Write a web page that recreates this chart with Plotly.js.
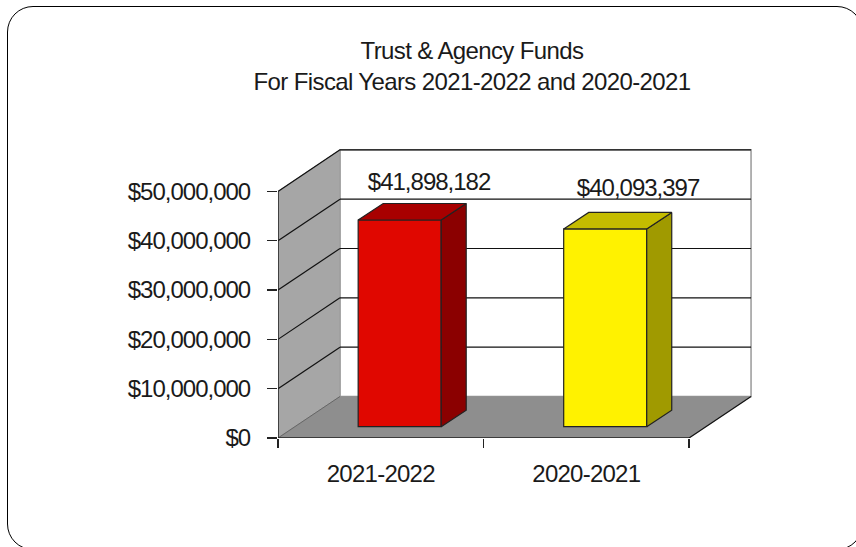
<!DOCTYPE html>
<html><head><meta charset="utf-8">
<script src="https://cdn.plot.ly/plotly-3.0.1.min.js"></script>
<style>
html,body{margin:0;padding:0;width:856px;height:547px;overflow:hidden;background:#fff}
#card{position:absolute;left:7px;top:6px;width:856px;height:544px;border:1.5px solid #000;border-radius:26px;box-sizing:border-box}
#chart{position:absolute;left:0;top:0;width:856px;height:547px}
#chart svg text{letter-spacing:-1px}
#chart svg .gtitle{letter-spacing:-0.62px}
#chart svg .xtick text{letter-spacing:-0.75px}
</style></head><body>
<div id="card"></div><div id="chart"></div>
<script>
const categories = ['2021-2022', '2020-2021'];
const values = [41898182, 40093397];
const valueLabels = ['$41,898,182', '$40,093,397'];
const frontColors = ['#E00700', '#FFF200'];
const sideColors = ['#8B0000', '#A09A00'];
const topColors = ['#A80000', '#C4BC00'];
const yTickValues = [0, 10000000, 20000000, 30000000, 40000000, 50000000];
const yTickLabels = ['$0', '$10,000,000', '$20,000,000', '$30,000,000', '$40,000,000', '$50,000,000'];
const xTickEdges = [-0.5, 0.5, 1.5];

// 3-D projection offsets, in axis units
const wallDx = 0.3016, wallDy = 8.42e6;
const barDx = 0.1217, barDy = 3.35e6;
const barOffsetX = 0.092, barBase = 2.3e6, barWidth = 0.404;
const labelOffsetsX = [0.235, 0.252], labelOffsetsY = [7.3e6, 7.9e6];

const x0 = xTickEdges[0], x1 = xTickEdges[xTickEdges.length - 1];
const yMax = yTickValues[yTickValues.length - 1];

const poly = (pts, fill, line, width) => ({
  type: 'path', xref: 'x', yref: 'y', layer: 'below',
  path: 'M' + pts.map(p => p[0] + ',' + p[1]).join('L') + 'Z',
  fillcolor: fill, line: {color: line, width: width}
});
const seg = (a, b, color, width) => ({
  type: 'line', xref: 'x', yref: 'y', layer: 'below',
  x0: a[0], y0: a[1], x1: b[0], y1: b[1], line: {color: color, width: width}
});

const shapes = [
  poly([[x0 + wallDx, wallDy], [x1 + wallDx, wallDy], [x1 + wallDx, yMax + wallDy], [x0 + wallDx, yMax + wallDy]], '#FFFFFF', '#9a9a9a', 1.5),
  poly([[x0, 0], [x0, yMax], [x0 + wallDx, yMax + wallDy], [x0 + wallDx, wallDy]], '#A6A6A6', '#9a9a9a', 1),
  poly([[x0, 0], [x1, 0], [x1 + wallDx, wallDy], [x0 + wallDx, wallDy]], '#8E8E8E', '#8E8E8E', 0.5)
];
yTickValues.slice(1).forEach(v => {
  shapes.push(seg([x0, v], [x0 + wallDx, v + wallDy], '#111', 1.2));
  shapes.push(seg([x0 + wallDx, v + wallDy], [x1 + wallDx, v + wallDy], '#111', 1.2));
});
shapes.push(seg([x0, 0], [x0 + wallDx, wallDy], '#666', 1));
shapes.push(seg([x1, 0], [x1 + wallDx, wallDy], '#111', 1.2));

const barXs = categories.map((c, i) => i + barOffsetX);
const traces = [{
  type: 'bar', x: barXs, y: values, base: barBase, width: barWidth,
  marker: {color: frontColors, line: {color: '#222', width: 1.2}},
  hoverinfo: 'skip', showlegend: false
}];
categories.forEach((c, i) => {
  const l = barXs[i] - barWidth / 2, r = barXs[i] + barWidth / 2;
  const b = barBase, t = barBase + values[i];
  traces.push({
    type: 'scatter', mode: 'lines', fill: 'toself', fillcolor: sideColors[i],
    x: [r, r + barDx, r + barDx, r, r], y: [b, b + barDy, t + barDy, t, b],
    line: {color: '#222', width: 1.2}, showlegend: false, hoverinfo: 'skip'
  });
  traces.push({
    type: 'scatter', mode: 'lines', fill: 'toself', fillcolor: topColors[i],
    x: [l, r, r + barDx, l + barDx, l], y: [t, t, t + barDy, t + barDy, t],
    line: {color: '#222', width: 1.2}, showlegend: false, hoverinfo: 'skip'
  });
});
traces.push({
  type: 'scatter', mode: 'text', cliponaxis: false,
  x: categories.map((c, i) => i + labelOffsetsX[i]),
  y: values.map((v, i) => v + barBase + labelOffsetsY[i]),
  text: valueLabels, textposition: 'middle center',
  textfont: {family: 'Liberation Sans, Arial, sans-serif', size: 24, color: '#1a1a1a'},
  showlegend: false, hoverinfo: 'skip'
});
traces.push({
  type: 'scatter', mode: 'lines', cliponaxis: false,
  x: [x0, x0, x1], y: [yMax, 0, 0],
  line: {color: '#222', width: 1.5}, showlegend: false, hoverinfo: 'skip'
});

const layout = {
  width: 856, height: 547,
  margin: {l: 278.3, r: 94.5, t: 147.1, b: 109, pad: 0},
  paper_bgcolor: 'rgba(0,0,0,0)', plot_bgcolor: 'rgba(0,0,0,0)',
  font: {family: 'Liberation Sans, Arial, sans-serif', color: '#1a1a1a', size: 24},
  title: {
    text: 'Trust &amp; Agency Funds<br>For Fiscal Years 2021-2022 and 2020-2021',
    x: 472 / 856, xanchor: 'center', y: 0.892, yanchor: 'bottom',
    font: {family: 'Liberation Sans, Arial, sans-serif', size: 24, color: '#1a1a1a'}
  },
  xaxis: {
    range: [-0.5, 1.85], showgrid: false, zeroline: false, showline: false,
    tickmode: 'array', tickvals: categories.map((c, i) => i), ticktext: categories,
    ticks: '', ticklabelstandoff: 19,
    tickfont: {size: 24},
    minor: {tickmode: 'array', tickvals: xTickEdges, ticks: 'outside', ticklen: 9, tickwidth: 1.2, tickcolor: '#222', showgrid: false}
  },
  yaxis: {
    range: [0, 59e6], showgrid: false, zeroline: false, showline: false,
    tickmode: 'array', tickvals: yTickValues, ticktext: yTickLabels,
    ticks: 'outside', ticklen: 10, tickwidth: 1.2, tickcolor: '#222',
    ticklabelstandoff: 12, tickfont: {size: 24}
  },
  shapes: shapes, showlegend: false, bargap: 0
};
Plotly.newPlot('chart', traces, layout, {displayModeBar: false, staticPlot: true});
</script>
</body></html>
